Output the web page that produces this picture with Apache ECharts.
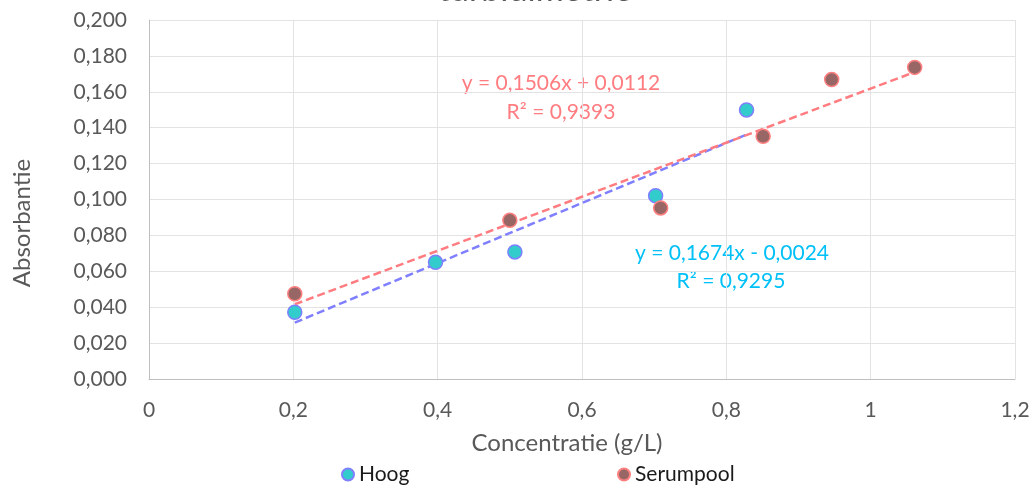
<!DOCTYPE html>
<html>
<head>
<meta charset="utf-8">
<script src="https://cdn.jsdelivr.net/npm/echarts@6/dist/echarts.min.js"></script>
<style>
html,body{margin:0;padding:0;background:#fff;}
#c{width:1033px;height:488px;}
</style>
</head>
<body>
<div id="c"></div>
<script>
// Data
var hoogX = [0.202, 0.397, 0.507, 0.702, 0.828];
var hoogY = [0.0372, 0.0650, 0.0708, 0.1021, 0.1499];
var serumX = [0.202, 0.500, 0.709, 0.851, 0.946, 1.061];
var serumY = [0.0475, 0.0884, 0.0953, 0.1352, 0.1668, 0.1736];
// Trendline coefficients as printed on the chart [slope, intercept]
var hoogFit = [0.1674, -0.0024];
var serumFit = [0.1506, 0.0112];
var hoogEq = ['y = 0,1674x - 0,0024', 'R² = 0,9295'];
var serumEq = ['y = 0,1506x + 0,0112', 'R² = 0,9393'];
var seriesNames = ['Hoog', 'Serumpool'];
var xTitle = 'Concentratie (g/L)';
var yTitle = 'Absorbantie';
var chartTitle = 'turbidimetrie';

function pairs(xs, ys){ return xs.map(function(x,i){ return [x, ys[i]]; }); }
function trend(xs, fit){
  var lo = Math.min.apply(null, xs), hi = Math.max.apply(null, xs);
  return [[lo, fit[0]*lo + fit[1]], [hi, fit[0]*hi + fit[1]]];
}

var FONT = 'Lato';
var chart = echarts.init(document.getElementById('c'));
chart.setOption({
  animation: false,
  textStyle: {fontFamily: FONT},
  grid: {left: 149, right: 18, top: 20, bottom: 109, containLabel: false},
  xAxis: {
    type: 'value', min: 0, max: 1.2, interval: 0.2,
    axisLine: {show: true, lineStyle: {color: '#BFBFBF', width: 1}},
    axisTick: {show: false},
    splitLine: {show: true, lineStyle: {color: '#E3E3E3', width: 1}},
    axisLabel: {
      color: '#595959', fontSize: 21, fontFamily: FONT, margin: 21,
      formatter: function(v){ return String(Math.round(v*10)/10).replace('.', ','); }
    }
  },
  yAxis: {
    type: 'value', min: 0, max: 0.2, interval: 0.02,
    axisLine: {show: true, lineStyle: {color: '#BFBFBF', width: 1}},
    axisTick: {show: false},
    splitLine: {show: true, lineStyle: {color: '#E3E3E3', width: 1}},
    axisLabel: {
      color: '#595959', fontSize: 21, fontFamily: FONT, margin: 22,
      formatter: function(v){ return v.toFixed(3).replace('.', ','); }
    }
  },
  legend: [
    {
      data: [seriesNames[0]], left: 341, top: 464, padding: 0, itemWidth: 12, itemHeight: 12,
      icon: 'circle', textStyle: {color: '#1a1a1a', fontSize: 21, fontFamily: FONT}
    },
    {
      data: [seriesNames[1]], left: 617, top: 464, padding: 0, itemWidth: 12, itemHeight: 12,
      icon: 'circle', textStyle: {color: '#1a1a1a', fontSize: 21, fontFamily: FONT}
    }
  ],
  graphic: [
    {type: 'text', style: {text: chartTitle, x: 535, y: -10, fill: '#595959', font: '34px ' + FONT, align: 'center', verticalAlign: 'middle'}},
    {type: 'text', style: {text: xTitle, x: 567, y: 443, fill: '#595959', font: '24px ' + FONT, align: 'center', verticalAlign: 'middle'}},
    {type: 'text', rotation: Math.PI/2, x: 22, y: 223, style: {text: yTitle, x: 0, y: 0, fill: '#595959', font: '24px ' + FONT, align: 'center', verticalAlign: 'middle'}},
    {type: 'text', style: {text: serumEq[0], x: 561, y: 83, fill: '#FF7C80', font: '21px ' + FONT, align: 'center', verticalAlign: 'middle'}},
    {type: 'text', style: {text: serumEq[1], x: 561, y: 112, fill: '#FF7C80', font: '21px ' + FONT, align: 'center', verticalAlign: 'middle'}},
    {type: 'text', style: {text: hoogEq[0], x: 732, y: 253, fill: '#00C0F8', font: '21px ' + FONT, align: 'center', verticalAlign: 'middle'}},
    {type: 'text', style: {text: hoogEq[1], x: 731, y: 281, fill: '#00C0F8', font: '21px ' + FONT, align: 'center', verticalAlign: 'middle'}}
  ],
  series: [
    {
      name: seriesNames[0] + ' trend', type: 'line', data: trend(hoogX, hoogFit),
      symbol: 'none', z: 2, silent: true,
      lineStyle: {color: '#7F7FFF', width: 2.5, type: [8, 4]}
    },
    {
      name: seriesNames[1] + ' trend', type: 'line', data: trend(serumX, serumFit),
      symbol: 'none', z: 2, silent: true,
      lineStyle: {color: '#FF7C80', width: 2.5, type: [8, 4]}
    },
    {
      name: seriesNames[0], type: 'scatter', data: pairs(hoogX, hoogY), symbolSize: 14, z: 3,
      itemStyle: {color: '#33CCCC', borderColor: '#7F7FFF', borderWidth: 1.5, opacity: 1}
    },
    {
      name: seriesNames[1], type: 'scatter', data: pairs(serumX, serumY), symbolSize: 14, z: 4,
      itemStyle: {color: '#996666', borderColor: '#FF8080', borderWidth: 1.5, opacity: 1}
    }
  ]
});
</script>
</body>
</html>
